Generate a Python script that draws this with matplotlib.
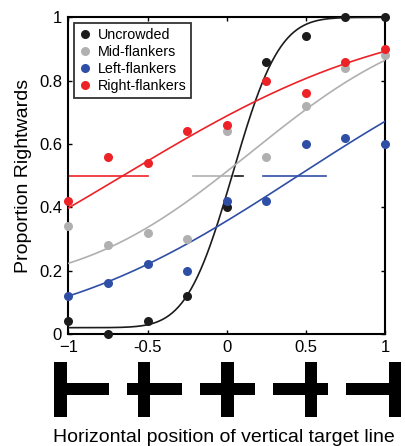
import math
import numpy as np
import matplotlib
matplotlib.use("Agg")
import matplotlib.pyplot as plt
from matplotlib.patches import Rectangle

plt.rcParams['font.family'] = ['Liberation Sans', 'DejaVu Sans']

# target line positions (also used for the stimulus icons)
x_pos = [-1, -0.75, -0.5, -0.25, 0, 0.25, 0.5, 0.75, 1]

uncrowded = [0.04, 0.00, 0.04, 0.12, 0.40, 0.86, 0.94, 1.00, 1.00]
mid_flank = [0.34, 0.28, 0.32, 0.30, 0.64, 0.56, 0.72, 0.84, 0.88]
left_flank = [0.12, 0.16, 0.22, 0.20, 0.42, 0.42, 0.60, 0.62, 0.60]
right_flank = [0.42, 0.56, 0.54, 0.64, 0.66, 0.80, 0.76, 0.86, 0.90]

# fitted psychometric functions: (mu, sigma, guess, lapse)
fit_unc = (0.04, 0.23, 0.02, 0.0)
fit_mid = (0.156, 0.847, 0.15, 0.0)
fit_left = (0.452, 1.234, 0.0, 0.0)
fit_right = (-0.655, 1.333, 0.0, 0.0)

# PSE intervals at 0.5
ci_unc = [0.05, 0.105]
ci_mid = [-0.215, 0.08]
ci_left = [0.23, 0.63]
ci_right = [-1.0, -0.5]

labels = ['Uncrowded', 'Mid-flankers', 'Left-flankers', 'Right-flankers']
colors = ['#1c1c1c', '#b0b0b0', '#2f4ea6', '#ec2227']

icon_x = [-1, -0.5, 0, 0.5, 1]
xtick_labels = ['\u22121', '-0.5', '0', '0.5', '1']


def psy(x, p):
    mu, s, g, l = p
    phi = np.array([0.5 * (1 + math.erf((v - mu) / (s * math.sqrt(2)))) for v in x])
    return g + (1 - g - l) * phi


fig = plt.figure(figsize=(4.05, 4.46), dpi=100)
ax = fig.add_axes([0.1687, 0.2511, 0.782, 0.710])

xx = np.linspace(-1, 1, 300)
series = [uncrowded, mid_flank, left_flank, right_flank]
fits = [fit_unc, fit_mid, fit_left, fit_right]

# intervals first (gray under black)
for ci, c in zip([ci_mid, ci_left, ci_right, ci_unc], [colors[1], colors[2], colors[3], colors[0]]):
    ax.plot(ci, [0.5, 0.5], color=c, lw=1.2, zorder=2)

for ys, p, c, lab in zip(series, fits, colors, labels):
    ax.plot(xx, psy(xx, p), color=c, lw=1.2, zorder=3)
    ax.plot(x_pos, ys, 'o', color=c, ms=6.5, mec='none', label=lab, clip_on=False, zorder=4)

ax.set_xlim(-1, 1)
ax.set_ylim(0, 1)
ax.set_xticks(icon_x)
ax.set_xticklabels(xtick_labels)
ax.set_yticks([0, 0.2, 0.4, 0.6, 0.8, 1])
ax.set_yticklabels(['0', '0.2', '0.4', '0.6', '0.8', '1'])
ax.tick_params(direction='in', top=True, right=True, length=3, width=1,
               labelsize=12, pad=4.5)
for sp in ax.spines.values():
    sp.set_linewidth(1.5)
ax.set_ylabel('Proportion Rightwards', fontsize=14, labelpad=5)

leg = ax.legend(loc='upper left', bbox_to_anchor=(0.018, 0.981), borderaxespad=0,
                fontsize=10.3, frameon=True, fancybox=False, edgecolor='black',
                handlelength=0.8, handletextpad=0.5, labelspacing=0.2,
                borderpad=0.35, markerscale=1.0)
leg.get_frame().set_linewidth(1.3)

# stimulus icons below the axis
icon_ax = fig.add_axes([0, 0, 1, 1], zorder=-1)
icon_ax.set_xlim(0, 405)
icon_ax.set_ylim(446, 0)
icon_ax.axis('off')
span = 55.0
bar = 12.5
start = 81.5
step = 73.0
for i, v in enumerate(icon_x):
    cx = start + i * step
    icon_ax.add_patch(Rectangle((cx - span / 2, 389 - bar / 2), span, bar, color='black', lw=0))
    vx = cx + v * (span / 2 - bar / 2)
    icon_ax.add_patch(Rectangle((vx - bar / 2, 389 - span / 2), bar, span, color='black', lw=0))

fig.text(224 / 405, (446 - 441.7) / 446, 'Horizontal position of vertical target line',
         ha='center', va='baseline', fontsize=14)

fig.savefig('out.png', dpi=100)
